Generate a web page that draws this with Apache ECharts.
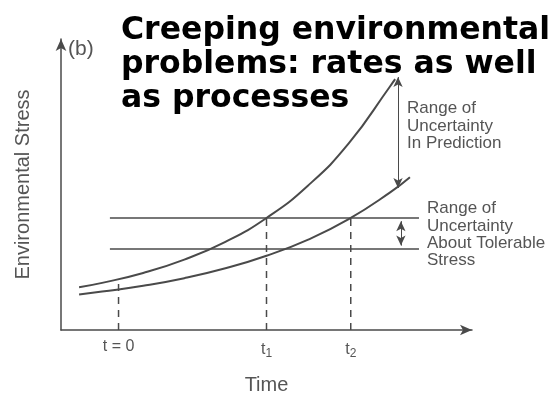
<!DOCTYPE html>
<html>
<head>
<meta charset="utf-8">
<script src="https://cdn.jsdelivr.net/npm/echarts@6/dist/echarts.min.js"></script>
<style>
  html, body { margin: 0; padding: 0; background: #fff; }
  #chart { width: 557px; height: 400px; }
</style>
</head>
<body>
<div id="chart"></div>
<script>
// stress curves (arbitrary units, time 0..10, stress 0..10)
const upperX = [0.44, 1, 2, 3, 4, 5, 6, 7, 8, 8.13];
const upperY = [1.47, 1.62, 1.96, 2.42, 3.03, 3.85, 4.95, 6.41, 8.36, 8.62];
const lowerX = [0.44, 1, 2, 3, 4, 5, 6, 7, 8, 8.49];
const lowerY = [1.22, 1.32, 1.52, 1.78, 2.12, 2.55, 3.10, 3.81, 4.72, 5.25];

// tolerable stress band
const toleranceLevels = [3.85, 2.78];
const toleranceSpan = [1.19, 8.71];

// time marks (label = main text + subscript)
const timeTicks = [1.4, 5, 7.05];
const timeLabels = ['t = 0', 't', 't'];
const timeSubs = ['', '1', '2'];
const dashTops = [1.7, 3.85, 3.85];

// uncertainty arrows: [x, from, to]
const predictionArrow = [8.2, 8.69, 4.88];
const toleranceArrow = [8.27, 3.74, 2.9];

const ink = '#4a4a4a';
const textInk = '#555';

const zip = (xs, ys) => xs.map((x, i) => [x, ys[i]]);

const series = [];

series.push({
    type: 'line', data: zip(upperX, upperY), smooth: true, showSymbol: false,
    lineStyle: { color: ink, width: 2 }
});
series.push({
    type: 'line', data: zip(lowerX, lowerY), smooth: true, showSymbol: false,
    lineStyle: { color: ink, width: 2 }
});

toleranceLevels.forEach(v => {
    series.push({
        type: 'line', data: toleranceSpan.map(x => [x, v]), showSymbol: false,
        lineStyle: { color: ink, width: 1.5 }
    });
});

timeTicks.forEach((t, i) => {
    series.push({
        type: 'line', data: [[t, 0], [t, dashTops[i]]], showSymbol: false,
        lineStyle: { color: ink, width: 1.5, type: [7, 6] }
    });
});

// double headed arrows done with markLine
const arrowLine = (a) => ({
    type: 'line', data: [], silent: true,
    markLine: {
        silent: true,
        symbol: ['arrow', 'arrow'],
        symbolSize: [7, 10],
        label: { show: false },
        lineStyle: { color: ink, width: 1, type: 'solid' },
        data: [[{ coord: [a[0], a[1]] }, { coord: [a[0], a[2]] }]]
    }
});
series.push(arrowLine(predictionArrow));
series.push(arrowLine(toleranceArrow));

const chart = echarts.init(document.getElementById('chart'));
chart.setOption({
    animation: false,
    backgroundColor: '#fff',
    title: {
        text: 'Creeping environmental\nproblems: rates as well\nas processes',
        left: 116,
        top: 9,
        textStyle: {
            fontFamily: 'DejaVu Sans',
            fontWeight: 'bold',
            fontSize: 31.5,
            lineHeight: 34,
            color: '#000'
        }
    },
    grid: { left: 61, top: 39, right: 85, bottom: 70, outerBoundsMode: 'none' },
    xAxis: {
        type: 'value', min: 0, max: 10,
        name: 'Time', nameLocation: 'middle', nameGap: 45,
        nameTextStyle: { fontFamily: 'Liberation Sans', fontSize: 20, color: textInk },
        axisLine: { show: true, symbol: ['none', 'arrow'], symbolSize: [8, 12], lineStyle: { color: ink, width: 1.5 } },
        axisTick: { show: false },
        splitLine: { show: false },
        axisLabel: {
            customValues: timeTicks,
            margin: 9,
            fontFamily: 'Liberation Sans', fontSize: 16, color: textInk,
            formatter: (v) => {
                const i = timeTicks.indexOf(v);
                return timeSubs[i] ? '{m|' + timeLabels[i] + '}{s|' + timeSubs[i] + '}' : '{m|' + timeLabels[i] + '}';
            },
            rich: {
                m: { fontFamily: 'Liberation Sans', fontSize: 16, color: textInk },
                s: { fontFamily: 'Liberation Sans', fontSize: 12, color: textInk, padding: [9, 0, 0, 0] }
            }
        }
    },
    yAxis: {
        type: 'value', min: 0, max: 10,
        name: 'Environmental Stress', nameLocation: 'middle', nameGap: 28,
        nameTextStyle: { fontFamily: 'Liberation Sans', fontSize: 20, color: textInk },
        axisLine: { show: true, symbol: ['none', 'arrow'], symbolSize: [8, 12], lineStyle: { color: ink, width: 1.5 } },
        axisTick: { show: false },
        axisLabel: { show: false },
        splitLine: { show: false }
    },
    graphic: [
        { type: 'text', left: 68, top: 39, style: { text: '(b)', fontFamily: 'Liberation Sans', fontSize: 21, fill: textInk } },
        { type: 'text', left: 407, top: 100, style: { text: 'Range of\nUncertainty\nIn Prediction', fontFamily: 'Liberation Sans', fontSize: 17, lineHeight: 17.5, fill: textInk } },
        { type: 'text', left: 427, top: 200, style: { text: 'Range of\nUncertainty\nAbout Tolerable\nStress', fontFamily: 'Liberation Sans', fontSize: 17, lineHeight: 17.3, fill: textInk } }
    ],
    series: series
});
</script>
</body>
</html>
